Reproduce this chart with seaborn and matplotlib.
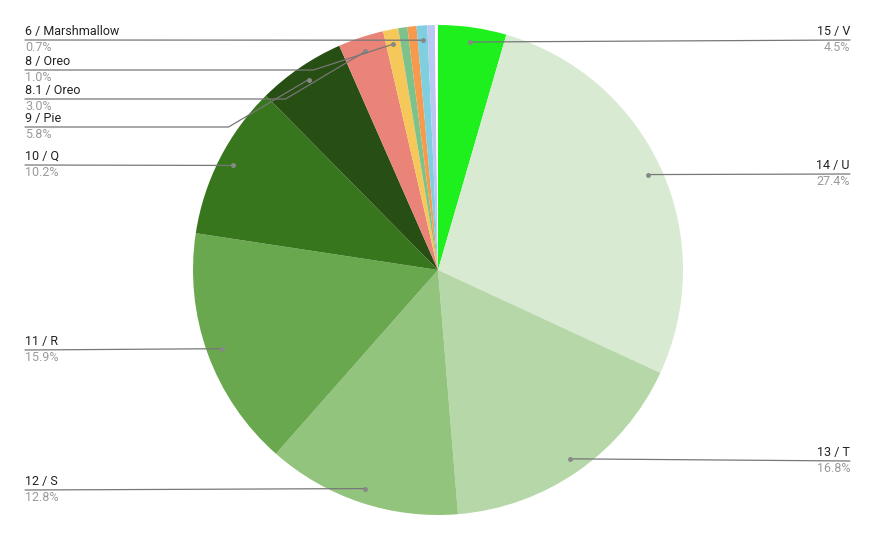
import numpy as np
import matplotlib
matplotlib.use("Agg")
import matplotlib.pyplot as plt
import seaborn as sns

sns.set_theme(style="white")
plt.rcParams['font.family'] = ['Roboto', 'DejaVu Sans']

labels = ["15 / V", "14 / U", "13 / T", "12 / S", "11 / R", "10 / Q", "9 / Pie",
          "8.1 / Oreo", "8 / Oreo", "", "", "6 / Marshmallow", "", ""]
values = [4.5, 27.4, 16.8, 12.8, 15.9, 10.2, 5.8, 3.0, 1.0, 0.6, 0.6, 0.7, 0.5, 0.2]
pct_text = ["4.5%", "27.4%", "16.8%", "12.8%", "15.9%", "10.2%", "5.8%",
            "3.0%", "1.0%", "", "", "0.7%", "", ""]
colors = ["#1ef01e", "#d9ead3", "#b6d7a8", "#93c47d", "#6aa84f", "#38761d", "#274e13",
          "#ea8378", "#f6c85a", "#7cc28a", "#f89a4e", "#7fcfe0", "#b8c8f0", "#ffffff"]
label_y = {"15 / V": 40, "14 / U": 174, "13 / T": 461, "12 / S": 490, "11 / R": 350,
           "10 / Q": 165, "9 / Pie": 127, "8.1 / Oreo": 99, "8 / Oreo": 70,
           "6 / Marshmallow": 40}

W, H = 875, 542
fig = plt.figure(figsize=(8.75, 5.42), dpi=100)
ax = fig.add_axes([0, 0, 1, 1])
ax.set_xlim(0, W); ax.set_ylim(0, H); ax.set_aspect('equal'); ax.axis('off')
cx, cy, R = 438, H - 270, 245
wedges, _ = ax.pie(values, colors=colors, startangle=90, counterclock=False,
                   center=(cx, cy), radius=R, wedgeprops=dict(linewidth=0),
                   frame=True)
ax.set_xlim(0, W); ax.set_ylim(0, H); ax.axis('off')

for w, lab, pct in zip(wedges, labels, pct_text):
    if not lab:
        continue
    ang = np.deg2rad((w.theta1 + w.theta2) / 2)
    px, py = cx + 0.94 * R * np.cos(ang), cy + 0.94 * R * np.sin(ang)
    ly = H - label_y[lab]
    right = px > cx
    lx = 850 if right else 25
    if abs(py - ly) < 4:
        xs, ys = [lx, px], [ly, py]
    else:
        ex = px + 80 if right else px - 80
        xs, ys = [lx, ex, px], [ly, ly, py]
    ax.plot(xs, ys, color="#777777", lw=0.9)
    ax.plot([px], [py], 'o', color="#888888", ms=2.5)
    ha = 'right' if right else 'left'
    ax.text(lx, ly + 2, lab, ha=ha, va='bottom', fontsize=9, color="#222222")
    ax.text(lx, ly - 1, pct, ha=ha, va='top', fontsize=9, color="#9a9a9a")

fig.savefig("out.png", dpi=100, facecolor="white")
